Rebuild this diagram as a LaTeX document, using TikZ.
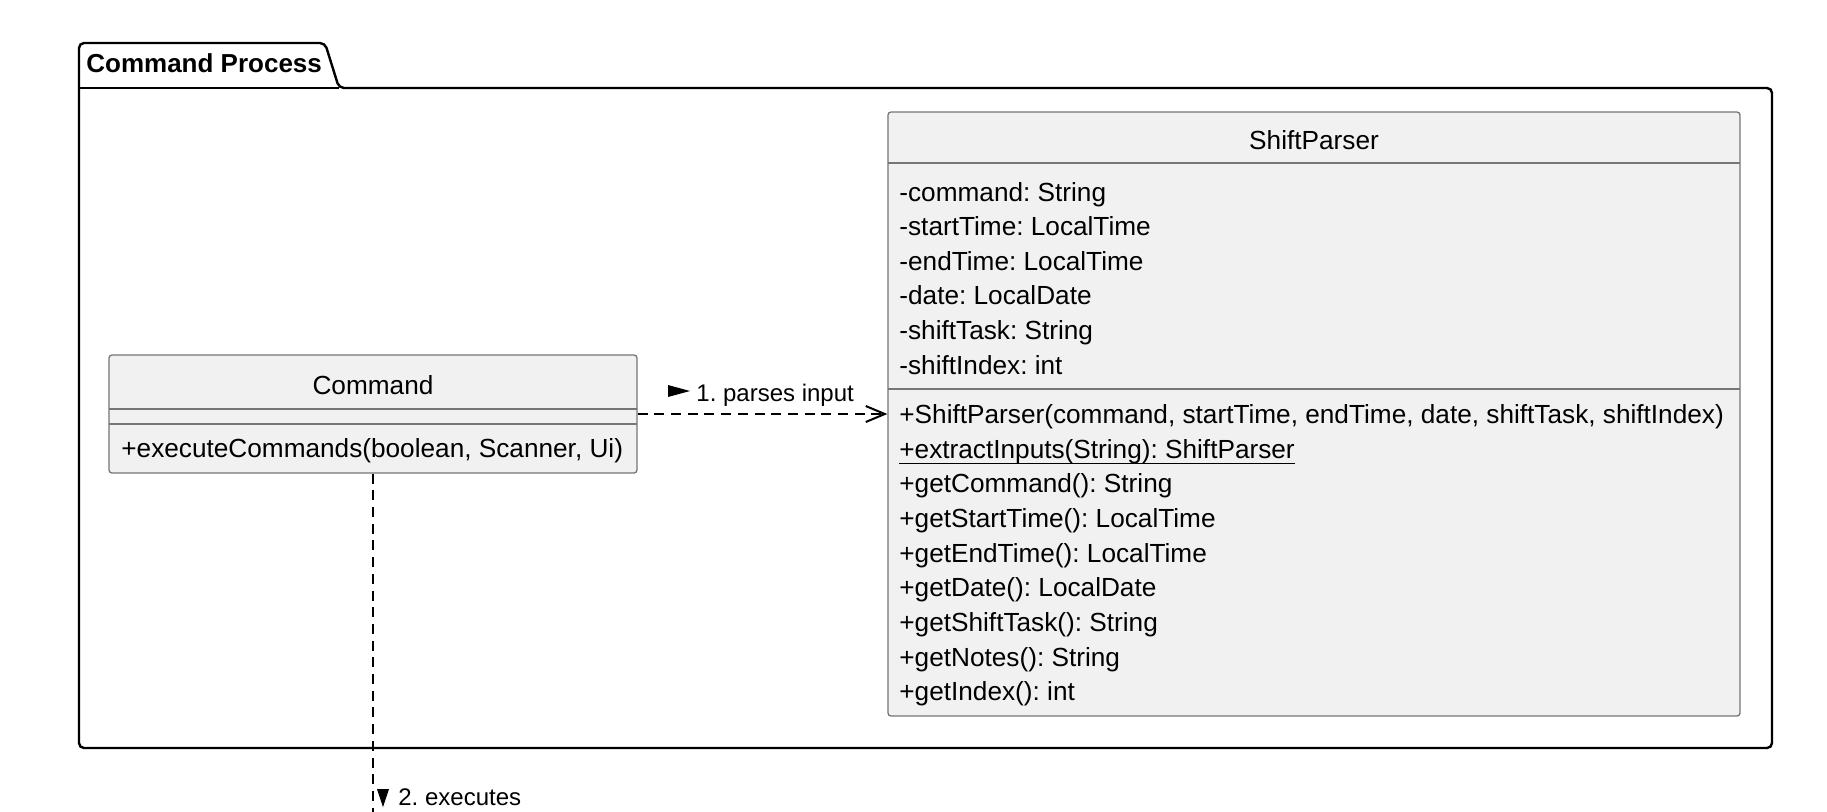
\documentclass[tikz,border=0pt]{standalone}
\usepackage{fontspec}
\setmainfont{Liberation Sans}
\usetikzlibrary{arrows.meta}
\definecolor{boxfill}{HTML}{F1F1F1}
\definecolor{boxline}{HTML}{767676}
\begin{document}
\frenchspacing
\begin{tikzpicture}[x=0.5pt,y=-0.5pt,
  classbox/.style={draw=boxline, fill=boxfill, line width=0.65pt, rounded corners=1.5pt, inner sep=0pt, rectangle},
  sepline/.style={draw=boxline, line width=0.65pt},
  member/.style={anchor=base west, inner sep=0pt, font=\fontsize{13.1}{15}\selectfont},
  ctitle/.style={anchor=base, inner sep=0pt, font=\fontsize{13.1}{15}\selectfont},
  lbl/.style={anchor=base west, inner sep=0pt, font=\fontsize{12}{14}\selectfont},
  pkgline/.style={draw=black, line width=1.2pt},
  dep/.style={draw=black, line width=1pt, dash pattern=on 5pt off 3.35pt},
  tri/.style={fill=black}
]
\useasboundingbox (0,0) rectangle (1827,811);
\fill[white] (0,0) rectangle (1827,811);

% package frame
\draw[pkgline, rounded corners=2.5pt] (79,748) -- (79,43) -- (325,43) -- (339,88) -- (1772,88) -- (1772,748) -- cycle;
\draw[pkgline] (79,88) -- (339,88);
\node[anchor=base west, inner sep=0pt, font=\bfseries\fontsize{13}{15}\selectfont] (pkgtitle) at (86,72) {Command Process};

% Command class
\node[classbox, minimum width=264pt, minimum height=59pt] (cmd) at (373,414) {};
\draw[sepline] (109,409) -- (637,409);
\draw[sepline] (109,424) -- (637,424);
\node[ctitle] (cmdtitle) at (373,394) {Command};
\node[member] (cmdm1) at (121,457) {+executeCommands(boolean, Scanner, Ui)};

% ShiftParser class
\node[classbox, minimum width=426pt, minimum height=302pt] (sp) at (1314,414) {};
\draw[sepline] (888,163) -- (1740,163);
\draw[sepline] (888,389) -- (1740,389);
\node[ctitle] (sptitle) at (1314,149) {ShiftParser};
\node[member] (a1) at (899,201.0) {-command: String};
\node[member] (a2) at (899,235.6) {-startTime: LocalTime};
\node[member] (a3) at (899,270.3) {-endTime: LocalTime};
\node[member] (a4) at (899,304.9) {-date: LocalDate};
\node[member] (a5) at (899,339.6) {-shiftTask: String};
\node[member] (a6) at (899,374.2) {-shiftIndex: int};
\node[member] (m1) at (899,423.5) {+ShiftParser(command, startTime, endTime, date, shiftTask, shiftIndex)};
\node[member] (m2) at (899,458.2) {+extractInputs(String): ShiftParser};
\draw[line width=0.5pt] ([yshift=-2.4pt]m2.base west) -- ([yshift=-2.4pt]m2.base east);
\node[member] (m3) at (899,492.8) {+getCommand(): String};
\node[member] (m4) at (899,527.5) {+getStartTime(): LocalTime};
\node[member] (m5) at (899,562.1) {+getEndTime(): LocalTime};
\node[member] (m6) at (899,596.8) {+getDate(): LocalDate};
\node[member] (m7) at (899,631.4) {+getShiftTask(): String};
\node[member] (m8) at (899,666.1) {+getNotes(): String};
\node[member] (m9) at (899,700.7) {+getIndex(): int};

% connectors
\draw[dep, -{Straight Barb[length=9.5pt,width=8pt,line width=1pt]}] (cmd.east) -- (sp.west);
\fill[tri] (668,385) -- (690,391) -- (668,397) -- cycle;
\node[lbl] (l1) at (696,401.5) {1. parses input};

\coordinate (vend) at (373,812);
\draw[dep] (cmd.south) -- (vend);
\fill[tri] (377,789) -- (389,789) -- (383,807) -- cycle;
\node[lbl] (l2) at (398,805.5) {2. executes};
\end{tikzpicture}
\end{document}
